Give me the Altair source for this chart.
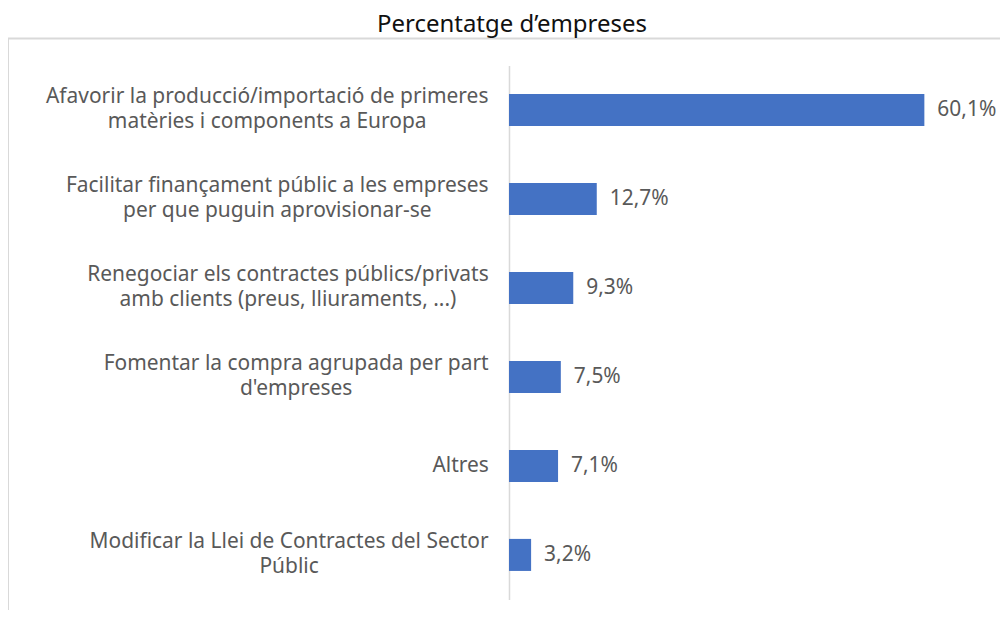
import altair as alt
import pandas as pd

line1 = [
    "Afavorir la producció/importació de primeres",
    "Facilitar finançament públic a les empreses",
    "Renegociar els contractes públics/privats",
    "Fomentar la compra agrupada per part",
    "Altres",
    "Modificar la Llei de Contractes del Sector",
]
line2 = [
    "matèries i components a Europa",
    "per que puguin aprovisionar-se",
    "amb clients (preus, lliuraments, ...)",
    "d'empreses",
    "",
    "Públic",
]
values = [60.1, 12.7, 9.3, 7.5, 7.1, 3.2]
value_labels = ["60,1%", "12,7%", "9,3%", "7,5%", "7,1%", "3,2%"]
subtitle = "Percentatge d\u2019empreses"

FONT = "Noto Sans"
FS = 21
GRAY = "#595959"

# approximate advance widths (em/1000) of the font, used to centre the two
# lines of each label inside a right-aligned block
_W = {" ": 260, "a": 561, "b": 615, "c": 480, "d": 615, "e": 564, "f": 344,
      "g": 615, "h": 618, "i": 258, "j": 258, "k": 534, "l": 258, "m": 935,
      "n": 618, "o": 605, "p": 615, "q": 615, "r": 413, "s": 479, "t": 361,
      "u": 618, "v": 508, "w": 786, "x": 529, "y": 510, "z": 470, "A": 639,
      "C": 632, "E": 556, "F": 522, "L": 519, "M": 907, "P": 603, "R": 618,
      "S": 549, "/": 371, "(": 296, ")": 296, ".": 268, ",": 250, "-": 322,
      "'": 225, "ç": 480, "ó": 605, "ú": 618, "è": 564}


def text_w(s):
    return sum(_W.get(ch, 560) for ch in s) * FS / 1000.0


cats = [a + "|" + b for a, b in zip(line1, line2)]
df = pd.DataFrame({"cat": cats, "l1": line1, "l2": line2,
                   "val": values, "lab": value_labels})
df["block_w"] = [max(text_w(a), text_w(b)) for a, b in zip(line1, line2)]

x_scale = alt.Scale(domain=[0, 69.6])
y_plain = alt.Y("cat:N", sort=cats,
                scale=alt.Scale(paddingInner=0.64, paddingOuter=0.32))

base = alt.Chart(df)

frame = alt.Chart(pd.DataFrame({"a": [0]})).mark_rect(
    fillOpacity=0, stroke="#d9d9d9", strokeWidth=2
).encode(x=alt.value(-502), x2=alt.value(520), y=alt.value(-27), y2=alt.value(580))

bars = base.mark_bar(color="#4472C4").encode(
    x=alt.X("val:Q", scale=x_scale, axis=None),
    y=alt.Y("cat:N", sort=cats,
            scale=alt.Scale(paddingInner=0.64, paddingOuter=0.32),
            axis=alt.Axis(labels=False, ticks=False, title=None,
                          domainColor="#d9d9d9", domainWidth=1.5, grid=False)),
)

vals = base.mark_text(align="left", baseline="middle", dx=13, font=FONT,
                      fontSize=FS, color=GRAY).encode(
    x=alt.X("val:Q", scale=x_scale),
    y=y_plain,
    text="lab:N",
)

lab_base = base.transform_calculate(cx="-20 - datum.block_w / 2")
text_style = dict(align="center", baseline="middle", font=FONT, fontSize=FS,
                  color=GRAY)

lab1_two = lab_base.transform_filter("datum.l2 != ''").mark_text(
    dy=-12.5, **text_style).encode(
    x=alt.X("cx:Q", scale=None), y=y_plain, text="l1:N")

lab1_one = lab_base.transform_filter("datum.l2 == ''").mark_text(
    **text_style).encode(
    x=alt.X("cx:Q", scale=None), y=y_plain, text="l1:N")

lab2 = lab_base.transform_filter("datum.l2 != ''").mark_text(
    dy=12.5, **text_style).encode(
    x=alt.X("cx:Q", scale=None), y=y_plain, text="l2:N")

title = alt.Chart(pd.DataFrame({"t": [subtitle]})).mark_text(
    align="center", baseline="middle", font=FONT, fontSize=24, color="#111111"
).encode(x=alt.value(3), y=alt.value(-41), text="t:N")

chart = alt.layer(frame, bars, vals, lab1_two, lab1_one, lab2, title).properties(
    width=482, height=535,
    padding={"left": 502, "top": 57, "right": 10, "bottom": 10},
    autosize="none",
).configure_view(stroke=None)

chart.save("out.html", embed_options={"renderer": "svg", "actions": False})
